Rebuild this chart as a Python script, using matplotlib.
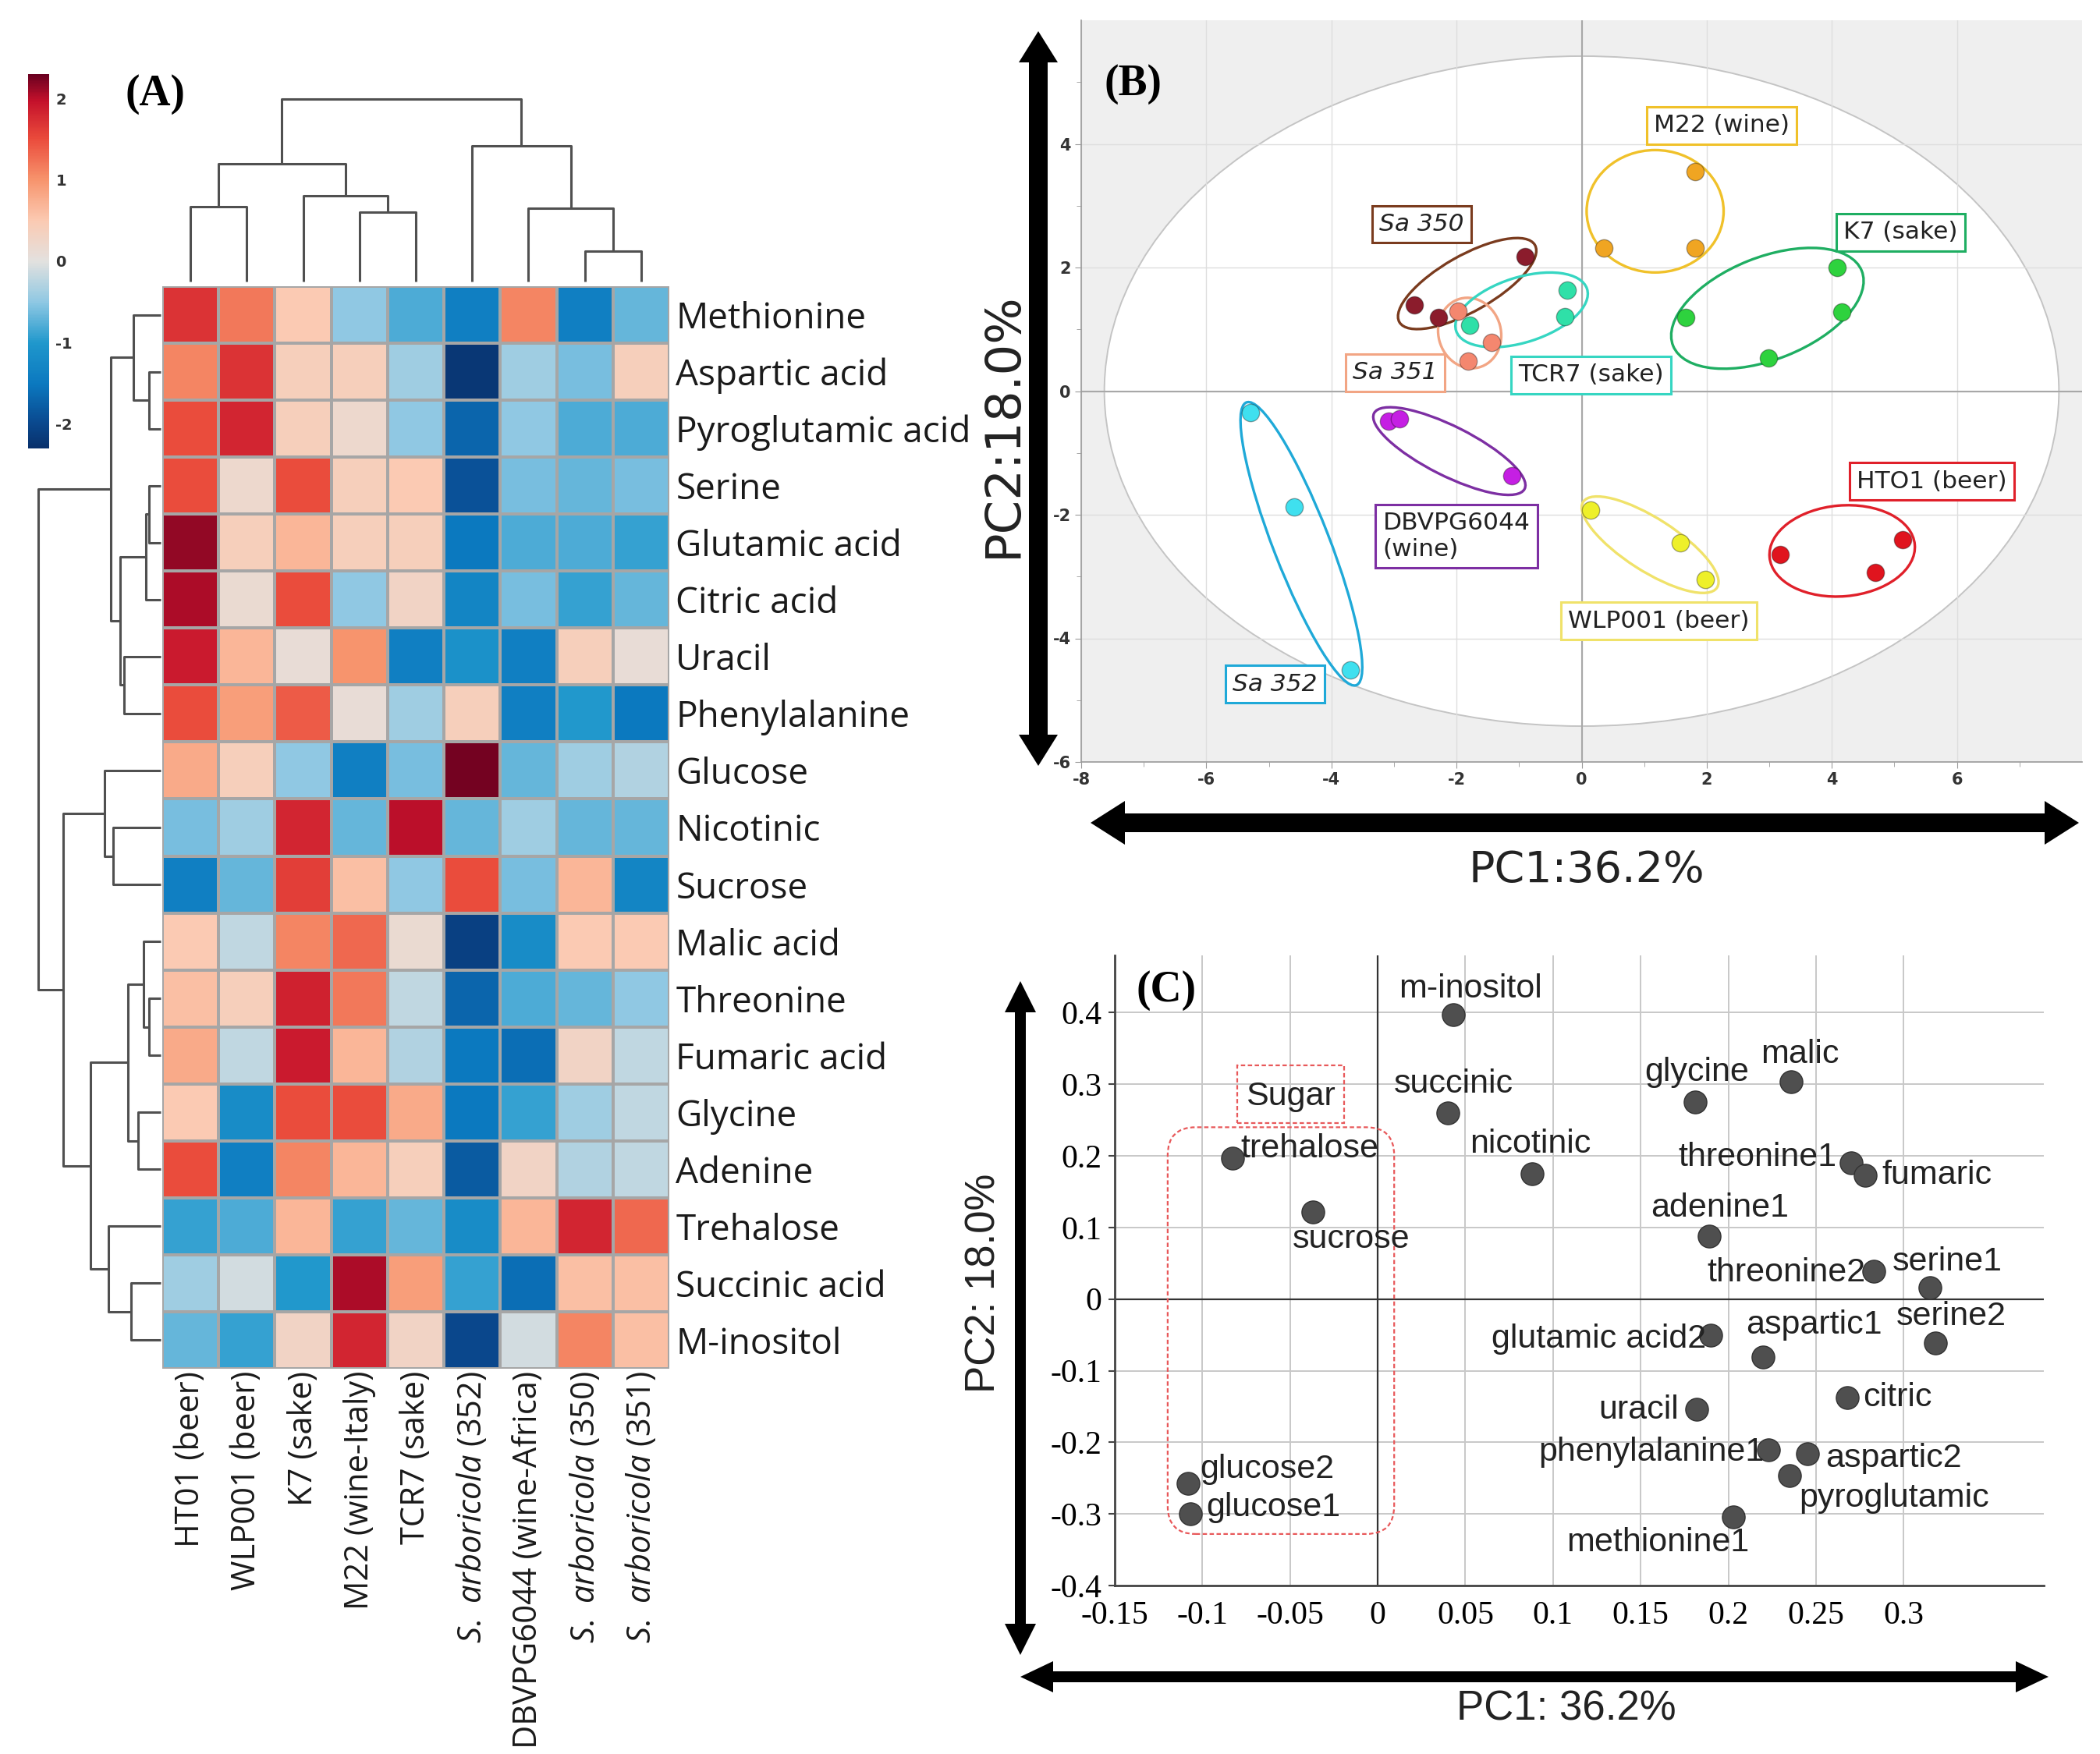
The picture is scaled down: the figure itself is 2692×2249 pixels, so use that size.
import numpy as np
import matplotlib
import matplotlib.pyplot as plt
from matplotlib.colors import LinearSegmentedColormap
from matplotlib.patches import Ellipse, Rectangle, FancyBboxPatch, Polygon

plt.rcParams['axes.unicode_minus'] = False
plt.rcParams['mathtext.fontset'] = 'custom'
plt.rcParams['mathtext.rm'] = 'Open Sans'
plt.rcParams['mathtext.it'] = 'Open Sans:italic'

W, H = 2692, 2249

# ---------------- (A) heatmap data ----------------
metabolites = ["Methionine", "Aspartic acid", "Pyroglutamic acid", "Serine", "Glutamic acid",
               "Citric acid", "Uracil", "Phenylalanine", "Glucose", "Nicotinic", "Sucrose",
               "Malic acid", "Threonine", "Fumaric acid", "Glycine", "Adenine", "Trehalose",
               "Succinic acid", "M-inositol"]
strains = ["HT01 (beer)", "WLP001 (beer)", "K7 (sake)", "M22 (wine-Italy)", "TCR7 (sake)",
           r"$\mathit{S.\ arboricola}$ (352)", "DBVPG6044 (wine-Africa)",
           r"$\mathit{S.\ arboricola}$ (350)", r"$\mathit{S.\ arboricola}$ (351)"]
zscores = np.array([
    [1.7, 1.2, 0.5, -0.5, -0.8, -1.4, 1.1, -1.4, -0.7],
    [1.1, 1.7, 0.4, 0.4, -0.4, -2.2, -0.4, -0.6, 0.4],
    [1.5, 1.8, 0.4, 0.2, -0.5, -1.7, -0.5, -0.8, -0.8],
    [1.5, 0.2, 1.5, 0.4, 0.5, -1.9, -0.6, -0.7, -0.6],
    [2.15, 0.4, 0.7, 0.4, 0.4, -1.5, -0.8, -0.8, -0.9],
    [2.05, 0.15, 1.5, -0.5, 0.3, -1.3, -0.6, -0.9, -0.7],
    [1.9, 0.7, 0.1, 1.0, -1.4, -1.1, -1.4, 0.4, 0.1],
    [1.5, 0.9, 1.4, 0.1, -0.4, 0.4, -1.4, -1.0, -1.5],
    [0.8, 0.4, -0.5, -1.4, -0.6, 2.25, -0.7, -0.4, -0.3],
    [-0.6, -0.4, 1.8, -0.7, 2.0, -0.7, -0.4, -0.7, -0.7],
    [-1.4, -0.7, 1.6, 0.6, -0.5, 1.5, -0.6, 0.7, -1.3],
    [0.5, -0.2, 1.1, 1.3, 0.15, -2.1, -1.2, 0.5, 0.5],
    [0.6, 0.4, 1.85, 1.2, -0.2, -1.7, -0.8, -0.7, -0.5],
    [0.8, -0.2, 1.9, 0.7, -0.3, -1.5, -1.6, 0.3, -0.2],
    [0.5, -1.2, 1.5, 1.5, 0.8, -1.5, -0.9, -0.4, -0.2],
    [1.5, -1.4, 1.1, 0.7, 0.4, -1.8, 0.3, -0.3, -0.2],
    [-0.9, -0.8, 0.7, -0.9, -0.7, -1.2, 0.7, 1.8, 1.3],
    [-0.4, -0.1, -1.0, 2.05, 0.9, -0.9, -1.6, 0.6, 0.6],
    [-0.7, -0.9, 0.3, 1.8, 0.3, -2.0, -0.1, 1.1, 0.6],
])

# dendrogram merges (child a, child b, height); new clusters get ids n, n+1, ...
row_links = [(1, 2, 25), (0, 19, 60), (3, 4, 25), (21, 5, 33), (6, 7, 80), (22, 23, 90),
             (20, 24, 110), (9, 10, 105), (8, 26, 123), (12, 13, 25), (11, 28, 37),
             (14, 15, 50), (29, 30, 72), (17, 18, 65), (16, 32, 115), (31, 33, 155),
             (27, 34, 215), (25, 35, 270)]
col_links = [(0, 1, 135), (3, 4, 125), (2, 10, 155), (9, 11, 213), (7, 8, 55),
             (6, 13, 132), (5, 14, 245), (12, 15, 330)]

# ---------------- (B) PCA scores ----------------
b_groups = ["Sa 350", "Sa 351", "TCR7 (sake)", "M22 (wine)", "K7 (sake)", "Sa 352",
            "DBVPG6044\n(wine)", "WLP001 (beer)", "HTO1 (beer)"]
b_italic = [True, True, False, False, False, True, False, False, False]
b_pc1 = [[-2.67, -2.29, -0.9], [-1.98, -1.44, -1.81], [-1.79, -0.23, -0.27],
         [0.36, 1.82, 1.82], [1.67, 4.08, 4.16, 2.99], [-5.29, -4.59, -3.7],
         [-3.09, -2.91, -1.12], [0.14, 1.58, 1.98], [3.18, 4.69, 5.13]]
b_pc2 = [[1.4, 1.19, 2.18], [1.29, 0.79, 0.49], [1.06, 1.64, 1.21],
         [2.32, 3.55, 2.32], [1.19, 2.0, 1.28, 0.54], [-0.35, -1.87, -4.51],
         [-0.49, -0.45, -1.37], [-1.93, -2.46, -3.05], [-2.64, -2.94, -2.4]]
b_label_x = [-2.56, -2.98, 0.15, 2.24, 5.1, -4.9, -2.0, 1.23, 5.6]
b_label_y = [2.7, 0.3, 0.26, 4.3, 2.57, -4.74, -2.35, -3.72, -1.46]
# group ellipses: centre x, centre y, width, height, angle
b_ellipses = [(-1.83, 1.74, 2.5, 0.9, 30), (-1.79, 0.94, 1.0, 1.15, 15),
              (-0.96, 1.315, 2.2, 1.05, 18), (1.175, 2.91, 2.19, 1.98, 0),
              (2.97, 1.34, 3.25, 1.65, 22), (-4.48, -2.47, 0.9, 4.9, 21),
              (-2.115, -0.97, 2.7, 0.8, -27), (1.095, -2.485, 2.55, 0.85, -33),
              (4.165, -2.585, 2.33, 1.47, 5)]
b_point_colors = ['#8b1c2c', '#f4876f', '#2fe0a8', '#f0a522', '#2ed23e', '#3fe0ef',
                  '#c51fe3', '#eef02a', '#e0141e']
b_line_colors = ['#7a3b1e', '#f2a584', '#36d6c2', '#f0c12a', '#1fae62', '#1fa9d8',
                 '#7d2fa3', '#f0e26a', '#e0202a']

# ---------------- (C) loadings ----------------
c_names = ["m-inositol", "succinic", "nicotinic", "trehalose", "sucrose", "glucose2", "glucose1",
           "glycine", "malic", "threonine1", "fumaric", "adenine1", "threonine2", "serine1",
           "serine2", "glutamic acid2", "aspartic1", "citric", "uracil", "phenylalanine1",
           "aspartic2", "pyroglutamic", "methionine1"]
c_pc1 = [0.043, 0.040, 0.088, -0.083, -0.037, -0.108, -0.107, 0.181, 0.236, 0.270, 0.278,
         0.189, 0.283, 0.315, 0.318, 0.190, 0.220, 0.268, 0.182, 0.223, 0.245, 0.235, 0.203]
c_pc2 = [0.397, 0.260, 0.175, 0.197, 0.122, -0.257, -0.300, 0.275, 0.304, 0.190, 0.173,
         0.088, 0.039, 0.016, -0.061, -0.050, -0.081, -0.137, -0.154, -0.210, -0.216,
         -0.246, -0.304]
c_lab_x = [0.053, 0.0435, 0.087, -0.078, -0.015, -0.1015, -0.098, 0.182, 0.241, 0.2165,
           0.2877, 0.195, 0.233, 0.325, 0.327, 0.126, 0.249, 0.2766, 0.149, 0.156, 0.2553,
           0.2945, 0.160]
c_lab_y = [0.433, 0.300, 0.216, 0.210, 0.084, -0.238, -0.291, 0.317, 0.342, 0.198, 0.173,
           0.127, 0.037, 0.052, -0.024, -0.056, -0.036, -0.138, -0.155, -0.214, -0.222,
           -0.278, -0.340]
c_lab_ha = ['center', 'center', 'center', 'left', 'center', 'left', 'left', 'center', 'center',
            'center', 'left', 'center', 'center', 'center', 'center', 'center', 'center', 'left',
            'center', 'center', 'left', 'center', 'center']
c_xticks = [-0.15, -0.1, -0.05, 0, 0.05, 0.1, 0.15, 0.2, 0.25, 0.3]
c_xticklabels = ["-0.15", "-0.1", "-0.05", "0", "0.05", "0.1", "0.15", "0.2", "0.25", "0.3"]
c_yticks = [-0.4, -0.3, -0.2, -0.1, 0, 0.1, 0.2, 0.3, 0.4]
c_yticklabels = ["-0.4", "-0.3", "-0.2", "-0.1", "0", "0.1", "0.2", "0.3", "0.4"]


def rect(x0, y0, x1, y1):
    return [x0 / W, 1 - y1 / H, (x1 - x0) / W, (y1 - y0) / H]


def dendro_segments(links, n):
    pos = {i: i + 0.5 for i in range(n)}
    hgt = {i: 0.0 for i in range(n)}
    segs = []
    for k, (a, b, h) in enumerate(links):
        segs.append(([pos[a], pos[a], pos[b], pos[b]], [hgt[a], h, h, hgt[b]]))
        pos[n + k] = (pos[a] + pos[b]) / 2
        hgt[n + k] = h
    return segs


def double_arrow(fig, x0, y0, x1, y1, shaft, head_w, head_l):
    p0 = np.array([x0, y0], float)
    p1 = np.array([x1, y1], float)
    d = (p1 - p0) / np.linalg.norm(p1 - p0)
    nrm = np.array([-d[1], d[0]])
    b0 = p0 + d * head_l
    b1 = p1 - d * head_l
    pts = [p0, b0 + nrm * head_w / 2, b0 + nrm * shaft / 2, b1 + nrm * shaft / 2,
           b1 + nrm * head_w / 2, p1, b1 - nrm * head_w / 2, b1 - nrm * shaft / 2,
           b0 - nrm * shaft / 2, b0 - nrm * head_w / 2]
    verts = [(p[0] / W, 1 - p[1] / H) for p in pts]
    fig.add_artist(Polygon(verts, closed=True, transform=fig.transFigure,
                           facecolor='black', edgecolor='none'))


fig = plt.figure(figsize=(W / 100, H / 100), dpi=100)

# ================= (A) =================
cmap = LinearSegmentedColormap.from_list('hm', [
    (0.00, '#08306b'), (0.07, '#0a4a90'), (0.17, '#0b78bf'), (0.28, '#1f97cc'),
    (0.39, '#8ec8e3'), (0.50, '#e3e1df'), (0.61, '#fbcab2'), (0.72, '#f7936c'),
    (0.83, '#ea4a3b'), (0.93, '#c4112b'), (1.00, '#6a0020')])

ax_hm = fig.add_axes(rect(208, 367, 858, 1755))
mesh = ax_hm.pcolormesh(zscores, cmap=cmap, vmin=-2.3, vmax=2.3,
                        edgecolors='#a6a6a6', linewidth=1.6)
ax_hm.set_xlim(0, len(strains))
ax_hm.set_ylim(len(metabolites), 0)
for s in ax_hm.spines.values():
    s.set_visible(False)
ax_hm.yaxis.tick_right()
ax_hm.set_yticks(np.arange(len(metabolites)) + 0.5)
ax_hm.set_yticklabels(metabolites, family='Open Sans', fontsize=33, color='#1a1a1a')
ax_hm.set_xticks(np.arange(len(strains)) + 0.5)
ax_hm.set_xticklabels(strains, rotation=90, family='Open Sans', fontsize=30, color='#1a1a1a')
ax_hm.tick_params(axis='y', length=0, pad=6)
ax_hm.tick_params(axis='x', length=0, pad=2)

ax_rd = fig.add_axes(rect(49, 367, 206, 1755))
for p, h in dendro_segments(row_links, len(metabolites)):
    ax_rd.plot(h, p, color='#505050', lw=2.2, clip_on=False, solid_capstyle='butt')
ax_rd.set_xlim(270, 0)
ax_rd.set_ylim(len(metabolites), 0)
ax_rd.axis('off')

ax_cd = fig.add_axes(rect(208, 127, 858, 361))
for p, h in dendro_segments(col_links, len(strains)):
    ax_cd.plot(p, h, color='#505050', lw=2.2, clip_on=False, solid_capstyle='butt')
ax_cd.set_xlim(0, len(strains))
ax_cd.set_ylim(0, 330)
ax_cd.axis('off')

cax = fig.add_axes(rect(36, 95, 63, 575))
cb = fig.colorbar(mesh, cax=cax, ticks=[-2, -1, 0, 1, 2])
cb.outline.set_visible(False)
cax.tick_params(length=0, labelsize=14, pad=6)
for t in cax.get_yticklabels():
    t.set_fontweight('bold')
    t.set_color('#333333')

fig.text(199 / W, 1 - 121 / H, "(A)", family='Liberation Serif', fontweight='bold',
         fontsize=40, ha='center', va='center')

# ================= (B) =================
ax_b = fig.add_axes(rect(1386, 26, 2669, 977))
ax_b.set_facecolor('#efefef')
ax_b.set_xlim(-8, 8)
ax_b.set_ylim(-6, 6)
ax_b.add_patch(Ellipse((0, 0), 15.26, 10.84, facecolor='white', edgecolor='#c4c4c4',
                       lw=1.4, zorder=1))
ax_b.set_axisbelow('line')
ax_b.set_xticks(np.arange(-8, 7, 2))
ax_b.set_yticks(np.arange(-6, 5, 2))
ax_b.set_xticks(np.arange(-7, 8, 2), minor=True)
ax_b.set_yticks(np.arange(-5, 6, 2), minor=True)
ax_b.grid(True, which='major', color='#dedede', lw=1)
ax_b.axhline(0, color='#a8a8a8', lw=1.5, zorder=1.6)
ax_b.axvline(0, color='#a8a8a8', lw=1.5, zorder=1.6)
for side in ['top', 'right']:
    ax_b.spines[side].set_visible(False)
for side in ['left', 'bottom']:
    ax_b.spines[side].set_color('#9a9a9a')
    ax_b.spines[side].set_linewidth(1.2)
ax_b.tick_params(which='major', length=6, color='#9a9a9a', labelsize=15, labelcolor='#333333')
ax_b.tick_params(which='minor', length=4, color='#9a9a9a')
for t in ax_b.get_xticklabels() + ax_b.get_yticklabels():
    t.set_fontweight('bold')

for i, g in enumerate(b_groups):
    cx, cy, ew, eh, ang = b_ellipses[i]
    ax_b.add_patch(Ellipse((cx, cy), ew, eh, angle=ang, facecolor='none',
                           edgecolor=b_line_colors[i], lw=2.4, zorder=2))
    ax_b.scatter(b_pc1[i], b_pc2[i], s=260, color=b_point_colors[i],
                 edgecolors='#00000055', linewidths=1, zorder=3)
    ax_b.text(b_label_x[i], b_label_y[i], g, ha='center', va='center', multialignment='left',
              family='DejaVu Sans', fontsize=22.5,
              fontstyle='italic' if b_italic[i] else 'normal', color='#222222', zorder=4,
              bbox=dict(boxstyle='square,pad=0.3', facecolor='white',
                        edgecolor=b_line_colors[i], lw=2.2))

fig.text(1453 / W, 1 - 108 / H, "(B)", family='Liberation Serif', fontweight='bold',
         fontsize=40, ha='center', va='center')
fig.text(1286 / W, 1 - 545 / H, "PC2:18.0%", rotation=90, family='DejaVu Sans',
         fontsize=45, ha='center', va='center', color='#222222')
fig.text(2034 / W, 1 - 1116 / H, "PC1:36.2%", family='DejaVu Sans',
         fontsize=40, ha='center', va='center', color='#222222')
double_arrow(fig, 1331, 40, 1331, 982, 24, 50, 40)
double_arrow(fig, 1398, 1055, 2665, 1055, 24, 56, 44)

# ================= (C) =================
ax_c = fig.add_axes(rect(1429, 1225, 2620, 2033))
ax_c.set_xlim(-0.15, 0.38)
ax_c.set_ylim(-0.4, 0.48)
ax_c.set_xticks(c_xticks)
ax_c.set_xticklabels(c_xticklabels, family='Liberation Serif', fontsize=30)
ax_c.set_yticks(c_yticks)
ax_c.set_yticklabels(c_yticklabels, family='Liberation Serif', fontsize=30)
ax_c.tick_params(axis='x', length=0, pad=14)
ax_c.tick_params(axis='y', length=6, width=1.5, color='#444444', pad=6)
ax_c.grid(True, color='#c8c8c8', lw=1.4)
ax_c.set_axisbelow(True)
for side in ['top', 'right']:
    ax_c.spines[side].set_visible(False)
for side in ['left', 'bottom']:
    ax_c.spines[side].set_color('#444444')
    ax_c.spines[side].set_linewidth(2)
ax_c.axhline(0, color='#333333', lw=1.6, zorder=1)
ax_c.axvline(0, color='#333333', lw=1.6, zorder=1)

ax_c.scatter(c_pc1, c_pc2, s=440, color='#4f4f4f', edgecolors='#333333', linewidths=1,
             zorder=3)
for i, name in enumerate(c_names):
    ax_c.text(c_lab_x[i], c_lab_y[i], name, ha=c_lab_ha[i], va='center',
              family='Liberation Sans', fontsize=31, color='#222222', zorder=4)

ax_c.add_patch(Rectangle((-0.080, 0.246), 0.061, 0.080, facecolor='none',
                         edgecolor='#e8585a', lw=1.6, ls=(0, (2.5, 1.5)), zorder=2))
ax_c.text(-0.0495, 0.283, "Sugar", ha='center', va='center', family='Liberation Sans',
          fontsize=31, color='#222222', zorder=4)
ax_c.add_patch(FancyBboxPatch((-0.1198, -0.328), 0.1292, 0.568,
                              boxstyle='round,pad=0,rounding_size=0.016',
                              mutation_aspect=2.45, facecolor='none', edgecolor='#e8585a',
                              lw=1.6, ls=(0, (2.5, 1.5)), zorder=2))

fig.text(1495 / W, 1 - 1270 / H, "(C)", family='Liberation Serif', fontweight='bold',
         fontsize=40, ha='center', va='center')
fig.text(1262 / W, 1 - 1645 / H, "PC2: 18.0%", rotation=90, family='Liberation Sans',
         fontsize=38, ha='center', va='center', color='#222222')
fig.text(2008 / W, 1 - 2192 / H, "PC1: 36.2%", family='Liberation Sans',
         fontsize=38, ha='center', va='center', color='#222222')
double_arrow(fig, 1308, 1258, 1308, 2122, 14, 40, 40)
double_arrow(fig, 1308, 2150, 2626, 2150, 14, 40, 42)

fig.savefig("out.png", dpi=100, facecolor='white')
